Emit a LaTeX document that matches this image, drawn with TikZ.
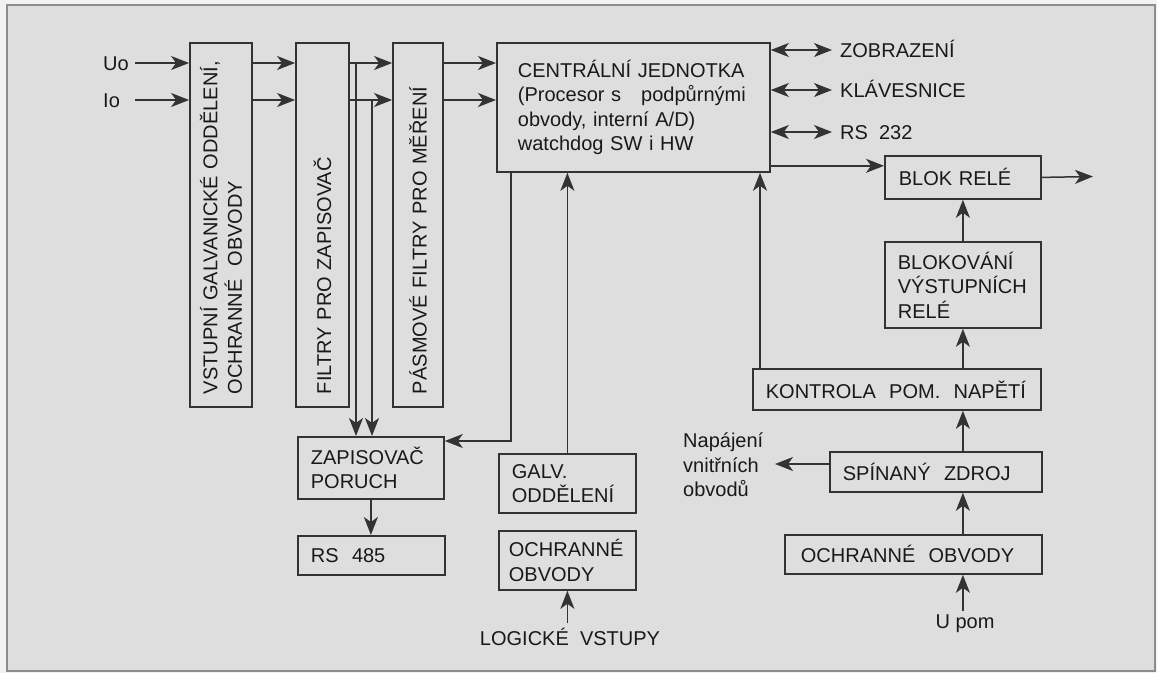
\documentclass[tikz,border=0pt]{standalone}
\usepackage{fontspec}
\setmainfont{Liberation Sans}
\usetikzlibrary{arrows.meta}
\definecolor{okoli}{gray}{0.95}
\definecolor{plocha}{gray}{0.87}
\definecolor{ramec}{gray}{0.55}
\definecolor{cara}{gray}{0.2}
\definecolor{pis}{gray}{0.1}
\newcommand{\velky}{\fontsize{20}{24.5}\selectfont}

\begin{document}
\begin{tikzpicture}[x=1pt, y=-1pt, font=\velky, text=pis,
  blok/.style={draw=cara, line width=1.8pt, anchor=north west, align=left, inner xsep=13pt, inner ysep=0pt},
  svis/.style={draw=cara, line width=1.8pt, rotate=90, align=left, inner xsep=13pt, inner ysep=0pt, minimum width=364pt},
  pil/.style={-{Stealth[length=18pt 0 0, width=14pt 0, inset=5pt 0]}, draw=cara, line width=1.5pt},
  dpil/.style={{Stealth[length=18pt 0 0, width=14pt 0, inset=5pt 0]}-{Stealth[length=18pt 0 0, width=14pt 0, inset=5pt 0]}, draw=cara, line width=1.5pt},
  popis/.style={inner sep=0pt, text height=14pt, text depth=0pt}]

  % page and frame
  \useasboundingbox (0,0) rectangle (1157,673);
  \fill[okoli] (0,0) rectangle (1157,673);
  \draw[draw=ramec, line width=1.8pt, fill=plocha] (7,5) rectangle (1155,671);

  % --- vertical blocks
  \node[svis, minimum height=62pt, text width=338pt] (vstup) at (221,225) {VSTUPNÍ GALVANICKÉ ODDĚLENÍ,\\OCHRANNÉ~ OBVODY};
  \node[svis, minimum height=53pt, text width=338pt] (filtz) at (322.5,225) {FILTRY PRO ZAPISOVAČ};
  \node[svis, minimum height=50pt, text width=338pt] (filtm) at (418,225) {PÁSMOVÉ FILTRY PRO MĚŘENÍ};

  % --- horizontal blocks
  \node[blok, inner xsep=21pt, text width=231pt, minimum height=129pt] (cpu) at (496,42)
    {CENTRÁLNÍ JEDNOTKA\\(Procesor s\ \ \ podpůrnými\\obvody, interní A/D)\\watchdog SW i HW};
  \node[blok, text width=120pt, minimum height=62pt] (zapis) at (297,436) {ZAPISOVAČ\\PORUCH};
  \node[blok, text width=121pt, minimum height=39pt] (rs485) at (297,535) {RS~ 485};
  \node[blok, text width=111pt, minimum height=59pt] (galv) at (498,453) {GALV.\\ODDĚLENÍ};
  \node[blok, inner xsep=10pt, text width=117pt, minimum height=59pt] (ochrlog) at (498,530) {OCHRANNÉ\\OBVODY};
  \node[blok, inner xsep=14pt, text width=128pt, minimum height=43pt] (blokrele) at (884,155) {BLOK RELÉ};
  \node[blok, text width=130pt, minimum height=86pt] (blokovani) at (884,241) {BLOKOVÁNÍ\\VÝSTUPNÍCH\\RELÉ};
  \node[blok, text width=262pt, minimum height=41pt] (kontrola) at (752,368) {KONTROLA~ POM.~ NAPĚTÍ};
  \node[blok, text width=186pt, minimum height=40pt] (zdroj) at (829,451) {SPÍNANÝ~ ZDROJ};
  \node[blok, inner xsep=16pt, text width=225pt, minimum height=39pt] (ochrpom) at (784,534) {OCHRANNÉ~ OBVODY};

  % --- labels
  \node[popis, anchor=west, align=left, text width=32pt] (uo) at (103,63) {Uo};
  \node[popis, anchor=west, align=left, text width=32pt] (io) at (103,100) {Io};
  \node[popis, anchor=west, inner xsep=8pt] (zobr) at (832,50) {ZOBRAZENÍ};
  \node[popis, anchor=west, inner xsep=8pt] (klav) at (832,90) {KLÁVESNICE};
  \node[popis, anchor=west, inner xsep=8pt] (rs232) at (832,132) {RS~ 232};
  \node[inner sep=0pt, anchor=north west, align=left, text width=92pt] (napaj) at (683,433) {Napájení\\vnitřních\\obvodů};
  \node[anchor=base, inner sep=4pt] (logika) at (570,645) {LOGICKÉ~ VSTUPY};
  \node[anchor=base, inner sep=3pt] (upom) at (965,628) {U pom};

  % --- signal path
  \draw[pil] (uo.east) -- (uo.east -| vstup.north);
  \draw[pil] (io.east) -- (io.east -| vstup.north);
  \foreach \v in {uo,io}{
    \draw[pil] (\v -| vstup.south) -- (\v -| filtz.north);
    \draw[pil] (\v -| filtz.south) -- (\v -| filtm.north);
    \draw[pil] (\v -| filtm.south) -- (\v -| cpu.west);
  }

  % taps to the recorder
  \coordinate (odbu) at (356,63);
  \coordinate (odbi) at (372,100);
  \draw[pil] (odbu) -- (odbu |- zapis.north);
  \draw[pil] (odbi) -- (odbi |- zapis.north);
  \coordinate (ohyb) at (511,441);
  \draw[pil] (ohyb |- cpu.south) -- (ohyb) -- (ohyb -| zapis.east);
  \draw[pil] (zapis.south) -- (zapis.south |- rs485.north);

  % logic inputs
  \draw[pil] (galv.north) -- (galv.north |- cpu.south);
  \draw[pil] (logika.north -| ochrlog.south) -- (ochrlog.south);

  % peripherals
  \foreach \c in {zobr,klav,rs232}
    \draw[dpil] (\c.west -| cpu.east) -- (\c.west);

  % relays and power supply
  \draw[pil] ([yshift=7pt]cpu.south east) -- ([yshift=7pt]cpu.south east -| blokrele.west);
  \coordinate (vystup) at (1093,176.5);
  \draw[pil] (blokrele.east) -- (vystup);
  \draw[pil] (blokovani.north) -- (blokrele.south);
  \draw[pil] (kontrola.north -| blokovani.south) -- (blokovani.south);
  \draw[pil] (zdroj.north -| blokovani.south) -- (kontrola.south -| blokovani.south);
  \draw[pil] (ochrpom.north -| blokovani.south) -- (zdroj.south -| blokovani.south);
  \draw[pil] (upom.north -| blokovani.south) -- (ochrpom.south -| blokovani.south);
  \draw[pil] ([xshift=8pt]kontrola.north west) -- ([xshift=8pt]kontrola.north west |- cpu.south);
  \coordinate (napajbod) at (775,464);
  \draw[pil] (napajbod -| zdroj.west) -- (napajbod);
\end{tikzpicture}
\end{document}
